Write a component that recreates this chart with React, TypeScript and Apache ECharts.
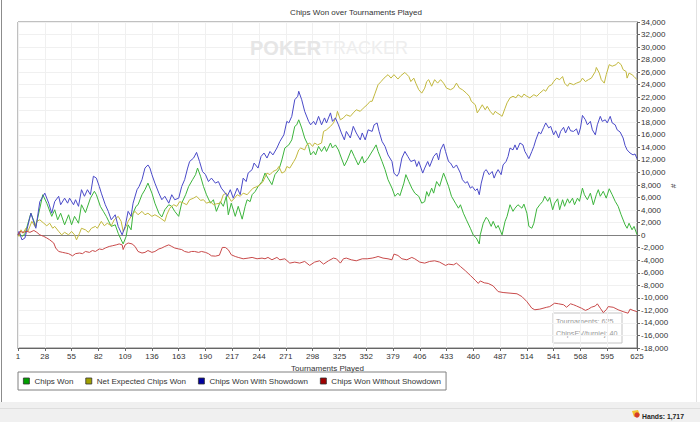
import React from 'react';
import * as echarts from 'echarts';

// [tournament, chips] pairs
const chipsWon: [number, number][] = [
  [1, 0], [2, 300], [5, -200], [8, 200], [14, 3500], [19, 1400], [26, 6450], [30, 5100], [35, 3000], [38, 4050],
  [41, 2450], [44, 3500], [48, 1650], [52, 3250], [55, 1650], [58, 3000], [62, 1900], [65, 4850], [69, 3600], [74, 5900],
  [78, 7000], [80, 6450], [84, 4600], [87, 3800], [90, 3000], [95, 1400], [99, 1650], [102, 300], [105, -750], [107, -1400],
  [110, -200], [112, 1650], [115, 850], [117, 3500], [120, 4600], [122, 4850], [126, 6450], [129, 7250], [132, 8300], [136, 6700],
  [139, 5100], [143, 3500], [146, 2900], [149, 4050], [153, 4850], [156, 4600], [159, 3800], [163, 3000], [166, 5100], [170, 6450],
  [173, 7750], [177, 8850], [180, 9650], [182, 10700], [185, 9400], [188, 7750], [191, 6450], [195, 5100], [198, 5650], [201, 3800],
  [205, 5350], [208, 4600], [211, 6200], [213, 3250], [216, 5100], [220, 3000], [223, 4600], [227, 2550], [230, 4600], [232, 5650],
  [235, 5350], [237, 6450], [240, 6950], [243, 7750], [247, 8550], [250, 9900], [253, 9100], [257, 8050], [260, 9650], [264, 10450],
  [267, 12000], [270, 13900], [274, 14400], [277, 15200], [280, 17350], [282, 17600], [284, 18400], [287, 17100], [290, 15500], [294, 14150],
  [296, 12800], [299, 13350], [301, 12800], [304, 14150], [307, 13350], [310, 14150], [312, 13350], [316, 14700], [318, 13900], [321, 14400],
  [324, 13600], [327, 12300], [330, 11050], [333, 12000], [337, 13600], [340, 12550], [344, 11200], [348, 12550], [350, 11500], [354, 12300],
  [357, 13100], [359, 13600], [362, 14400], [364, 13350], [368, 11750], [371, 10450], [374, 8850], [378, 7500], [381, 6200], [384, 6700],
  [386, 6300], [390, 8300], [392, 9650], [395, 8550], [398, 7500], [401, 6700], [405, 6200], [408, 5100], [411, 5350], [413, 6950],
  [415, 6200], [418, 7500], [420, 6700], [423, 8550], [426, 7800], [430, 9900], [432, 9100], [435, 7800], [438, 6200], [442, 5100],
  [445, 4300], [447, 4850], [450, 3500], [453, 2450], [457, 1100], [460, 0], [463, -450], [466, -1400], [467, 50], [470, 1900],
  [473, 2850], [475, 2450], [478, 1400], [480, 2200], [483, 1100], [485, 1550], [489, 50], [492, 2200], [494, 3000], [497, 4850],
  [500, 3800], [502, 4300], [505, 4850], [509, 4300], [511, 4950], [514, 3500], [516, 1400], [519, 1100], [521, 1900], [524, 4200],
  [527, 4850], [530, 5400], [532, 6200], [535, 5400], [537, 6000], [540, 4050], [542, 5100], [545, 5800], [547, 4050], [550, 5650],
  [552, 4600], [555, 5800], [557, 5100], [560, 5900], [562, 4850], [565, 5900], [567, 5400], [570, 7500], [572, 6450], [575, 5650],
  [578, 6700], [581, 4850], [584, 6450], [586, 7250], [588, 6200], [591, 7000], [594, 5900], [597, 7400], [600, 6450], [603, 5400],
  [606, 4600], [609, 3250], [613, 1650], [615, 1100], [617, 1900], [620, 850], [622, 1400], [625, 100],
];

const netExpected: [number, number][] = [
  [1, 200], [2, -200], [4, 850], [6, 300], [9, 1100], [11, 600], [15, 2200], [18, 1400], [20, 2200], [23, 2450],
  [27, 1900], [30, 1500], [33, 1900], [36, 1100], [38, 1400], [42, 600], [45, 50], [48, 450], [52, 50], [55, 600],
  [58, 50], [60, -750], [63, 300], [65, 1100], [69, 850], [72, 450], [75, 1100], [79, 1400], [81, 1100], [85, 2200],
  [88, 1500], [91, 1900], [95, 1500], [98, 2450], [102, 3000], [105, 2200], [107, 600], [110, 1400], [112, 2200], [116, 3250],
  [119, 3800], [122, 3250], [126, 3800], [129, 3250], [132, 3500], [136, 3000], [139, 3250], [143, 2900], [146, 2550], [149, 2200],
  [151, 3250], [154, 4300], [158, 4850], [161, 4600], [164, 5350], [168, 5100], [171, 4850], [174, 5650], [178, 5900], [181, 6200],
  [185, 5550], [188, 5650], [191, 5100], [195, 5350], [198, 4850], [201, 5000], [205, 5100], [208, 6450], [211, 6700], [213, 6200],
  [216, 5400], [218, 5650], [222, 6450], [225, 6200], [228, 6700], [232, 6450], [235, 7000], [238, 7500], [242, 7750], [245, 8050],
  [248, 8550], [252, 9900], [255, 9650], [258, 10150], [262, 10450], [264, 10950], [267, 9900], [270, 10150], [272, 10950], [275, 10700],
  [279, 11750], [281, 12300], [284, 13600], [286, 13900], [290, 13600], [292, 14400], [295, 14700], [298, 14150], [300, 14700], [303, 14400],
  [307, 14700], [309, 16550], [312, 16800], [316, 17350], [319, 17900], [322, 18950], [323, 19750], [326, 18400], [329, 18700], [332, 19200],
  [336, 18950], [339, 19500], [342, 20000], [346, 19750], [349, 20250], [353, 20800], [356, 21350], [358, 21350], [361, 22650], [364, 24000],
  [367, 24500], [370, 25050], [374, 25600], [377, 25050], [380, 25600], [384, 24900], [387, 25450], [391, 25950], [395, 25300], [397, 24500],
  [400, 25050], [402, 24250], [405, 23200], [408, 22650], [411, 23450], [413, 24500], [415, 24800], [418, 23750], [421, 24800], [424, 24250],
  [427, 24800], [430, 24250], [433, 23450], [437, 23200], [440, 23450], [443, 24250], [446, 23450], [449, 23200], [453, 22650], [456, 22150],
  [458, 21350], [462, 20800], [464, 19500], [467, 20250], [469, 20800], [472, 20000], [474, 20550], [477, 19750], [480, 19200], [482, 19750],
  [484, 19500], [487, 19200], [489, 18950], [492, 20250], [494, 21100], [497, 21900], [500, 22150], [503, 21900], [505, 22400], [509, 22000],
  [511, 22500], [514, 22150], [517, 21900], [521, 22400], [524, 22150], [527, 22650], [531, 23200], [533, 22950], [536, 23750], [539, 24000],
  [541, 24500], [544, 25050], [547, 24800], [550, 25300], [552, 24250], [555, 23750], [557, 24250], [561, 24000], [564, 24250], [568, 24500],
  [570, 25050], [573, 24500], [576, 24800], [579, 25050], [583, 26100], [584, 26750], [587, 25850], [589, 24800], [592, 24250], [594, 25600],
  [597, 27200], [600, 26950], [604, 27200], [606, 27600], [609, 27200], [611, 26400], [614, 26100], [615, 25050], [617, 25850], [620, 25600],
  [622, 25300], [625, 24800],
];

const withShowdown: [number, number][] = [
  [1, 0], [2, 600], [5, -750], [8, -450], [14, 3500], [19, 1100], [23, 5350], [28, 6700], [32, 5100], [35, 3500],
  [38, 5350], [42, 6200], [44, 4850], [48, 5900], [51, 5100], [53, 5900], [57, 4850], [59, 5650], [62, 4600], [65, 7250],
  [68, 6200], [71, 7250], [74, 6450], [77, 9400], [80, 9100], [83, 7750], [85, 6700], [89, 4850], [92, 3800], [95, 2450],
  [99, 3250], [102, 1400], [106, 50], [109, 1400], [112, 3800], [115, 3000], [117, 5100], [121, 7250], [123, 7750], [126, 8850],
  [129, 10700], [132, 11200], [134, 10700], [136, 9650], [139, 8300], [143, 6700], [146, 5650], [149, 6200], [153, 5100], [156, 6450],
  [159, 5650], [163, 5900], [166, 7750], [169, 8850], [172, 10700], [174, 11750], [178, 12300], [181, 13200], [184, 11750], [187, 10150],
  [190, 9650], [193, 8550], [196, 9100], [200, 8300], [203, 8550], [206, 7500], [210, 6700], [212, 6200], [215, 7250], [218, 5900],
  [222, 7500], [225, 6450], [228, 9100], [231, 8550], [233, 9900], [237, 10450], [239, 11500], [243, 10700], [246, 12550], [249, 13100],
  [252, 12300], [255, 13350], [258, 12800], [262, 13900], [265, 14950], [269, 16000], [272, 18150], [274, 17900], [277, 18950], [280, 21600],
  [283, 22150], [284, 22950], [287, 21600], [290, 19750], [294, 18150], [296, 17600], [299, 18150], [301, 17600], [304, 18950], [307, 17600],
  [310, 18700], [312, 17900], [316, 19500], [318, 18150], [321, 18700], [324, 17600], [327, 16300], [330, 15200], [332, 16550], [336, 15500],
  [339, 17350], [342, 16300], [346, 15200], [348, 16300], [351, 15200], [354, 16800], [358, 16550], [360, 17600], [363, 17900], [365, 16550],
  [368, 14950], [371, 14150], [374, 12800], [378, 11750], [380, 9900], [383, 9400], [385, 9900], [388, 12300], [391, 13350], [394, 12550],
  [397, 11750], [401, 12000], [403, 10950], [405, 11750], [409, 9900], [411, 10700], [414, 11750], [416, 10950], [420, 12550], [423, 13100],
  [425, 12000], [427, 13600], [430, 14550], [432, 13350], [435, 11750], [437, 11500], [440, 10700], [443, 11200], [447, 9900], [449, 8850],
  [452, 8300], [454, 8550], [457, 7500], [459, 7750], [462, 7100], [464, 7400], [466, 6450], [468, 8300], [471, 10150], [473, 10450],
  [476, 9650], [479, 10150], [481, 9100], [483, 9900], [485, 10450], [488, 9650], [490, 11200], [493, 11750], [495, 12550], [497, 13900],
  [500, 13600], [502, 14400], [504, 13600], [507, 14700], [510, 14400], [512, 13350], [514, 12800], [516, 12200], [519, 13350], [521, 14150],
  [523, 15200], [526, 16450], [528, 16150], [531, 17200], [533, 17900], [536, 17100], [538, 17350], [541, 16000], [543, 16650], [546, 15500],
  [548, 16550], [551, 17200], [553, 16300], [556, 17350], [558, 16650], [561, 16550], [564, 16950], [566, 16000], [568, 17100], [570, 19100],
  [573, 18400], [575, 17600], [578, 18150], [580, 16800], [583, 16000], [585, 17600], [588, 18950], [590, 18150], [593, 18400], [595, 17900],
  [598, 18950], [600, 17900], [603, 17600], [605, 16800], [608, 16450], [611, 15500], [613, 14300], [615, 13600], [618, 13100], [621, 12800],
  [623, 12950], [625, 12200],
];

const withoutShowdown: [number, number][] = [
  [1, 0], [3, 600], [6, 450], [10, 600], [13, 450], [17, 750], [20, 450], [23, 50], [27, -200], [30, -450],
  [33, -750], [37, -1250], [39, -2050], [42, -2600], [46, -2750], [49, -2850], [52, -2950], [56, -3300], [59, -2950], [63, -2850],
  [66, -2950], [69, -2600], [73, -2750], [76, -2450], [79, -2600], [83, -2200], [86, -2300], [89, -2050], [93, -1800], [96, -1700],
  [100, -1550], [103, -1400], [106, -1550], [107, -2300], [109, -1550], [112, -1250], [116, -1400], [119, -1800], [122, -2600], [126, -2850],
  [129, -2750], [132, -2450], [136, -2750], [139, -2600], [143, -2200], [146, -2050], [149, -1800], [153, -1550], [156, -1800], [159, -2050],
  [163, -2200], [166, -2300], [169, -2600], [173, -2750], [176, -2600], [179, -2600], [183, -2750], [186, -2600], [190, -2750], [193, -2950],
  [196, -3300], [200, -3350], [204, -3200], [207, -1960], [210, -1960], [213, -2330], [216, -3130], [220, -3400], [223, -3550], [228, -3770],
  [233, -3660], [237, -3550], [242, -3770], [247, -3660], [250, -3770], [253, -3550], [257, -3930], [262, -3550], [265, -3930], [270, -3770],
  [275, -4460], [280, -4300], [285, -4460], [290, -4190], [295, -4830], [300, -4300], [305, -4090], [309, -4620], [314, -4090], [319, -3660],
  [322, -3770], [326, -4460], [329, -3770], [332, -3660], [337, -3930], [342, -4090], [348, -3770], [353, -3770], [358, -3660], [361, -3550],
  [364, -3400], [369, -3660], [374, -3770], [378, -3930], [380, -3020], [384, -3240], [388, -3770], [393, -3930], [398, -3550], [401, -3770],
  [406, -4300], [411, -4460], [416, -4190], [421, -4090], [426, -4300], [432, -4830], [435, -4620], [440, -4730], [443, -4460], [447, -5000],
  [452, -5680], [457, -6430], [462, -7200], [465, -7700], [467, -7300], [471, -7600], [475, -7700], [480, -8100], [485, -9000], [490, -9150],
  [497, -9250], [504, -9350], [509, -9800], [514, -10600], [519, -11650], [522, -11900], [527, -11800], [534, -11500], [537, -11400], [542, -10850],
  [546, -10950], [551, -11100], [554, -11500], [558, -10950], [561, -11100], [564, -11300], [569, -11650], [573, -12000], [576, -11800], [579, -11500],
  [583, -11300], [585, -10950], [588, -11650], [591, -12350], [594, -11900], [596, -11400], [601, -11500], [606, -11900], [611, -12200], [616, -12450],
  [618, -11800], [621, -12000], [625, -12200],
];

const tournamentCount = 625;
const tournaments = Array.from({ length: tournamentCount }, (_, i) => String(i + 1));

const seriesNames = ['Chips Won', 'Net Expected Chips Won', 'Chips Won With Showdown', 'Chips Won Without Showdown'];
const lineColors = ['#3cb43c', '#c2b83e', '#4a4ac8', '#c84a4a'];
const legendColors = ['#00a000', '#a0a000', '#0000a0', '#a00000'];

const FONT = '"Liberation Sans", Arial, sans-serif';

// label every 27th tournament, plus the last one
const showTick = (idx: number) => (idx % 27 === 0 && idx <= 594) || idx === tournamentCount - 1;

const App: React.FC = () => {
  const chartRef = React.useRef<HTMLDivElement>(null);

  React.useEffect(() => {
    if (!chartRef.current) return;
    const chart = echarts.init(chartRef.current, undefined, { renderer: 'svg' });

    const allSeries = [chipsWon, netExpected, withShowdown, withoutShowdown];

    chart.setOption({
      animation: false,
      backgroundColor: '#ffffff',
      textStyle: { fontFamily: FONT },
      grid: {
        left: 18,
        top: 22,
        width: 619,
        height: 326,
        show: true,
        borderColor: '#808080',
        borderWidth: 1,
        backgroundColor: '#ffffff',
      },
      legend: {
        left: 18,
        top: 372,
        icon: 'rect',
        itemWidth: 6,
        itemHeight: 6,
        itemGap: 12,
        padding: [5, 5, 5, 5],
        borderColor: '#808080',
        borderWidth: 1,
        textStyle: { fontSize: 8, color: '#333', fontFamily: FONT },
        data: seriesNames.map((name, i) => ({
          name,
          itemStyle: { color: legendColors[i], borderColor: '#333', borderWidth: 0.8 },
        })),
      },
      xAxis: {
        type: 'category',
        data: tournaments,
        boundaryGap: false,
        name: 'Tournaments Played',
        nameLocation: 'middle',
        nameGap: 15,
        nameTextStyle: { fontSize: 8, color: '#333' },
        axisLine: { onZero: false, lineStyle: { color: '#666' } },
        axisTick: { interval: showTick, length: 3, lineStyle: { color: '#666' } },
        axisLabel: { interval: showTick, margin: 4, fontSize: 8, color: '#333' },
        splitLine: { show: true, interval: showTick, lineStyle: { color: '#f0f0f0' } },
      },
      yAxis: {
        type: 'value',
        position: 'right',
        min: -18000,
        max: 34000,
        interval: 2000,
        axisLine: { show: true, lineStyle: { color: '#666' } },
        axisTick: { show: true, length: 3, lineStyle: { color: '#666' } },
        axisLabel: {
          margin: 4,
          fontSize: 8,
          color: '#333',
          formatter: (v: number) => v.toLocaleString('en-US'),
        },
        splitLine: { show: true, lineStyle: { color: '#f0f0f0' } },
      },
      series: allSeries.map((pts, i) => ({
        name: seriesNames[i],
        type: 'line',
        showSymbol: false,
        symbol: 'none',
        data: pts.map(([t, v]) => [t - 1, v]),
        itemStyle: { color: legendColors[i] },
        lineStyle: { color: lineColors[i], width: 1 },
        z: 3,
        markLine: i === 0 ? {
          silent: true,
          symbol: 'none',
          label: { show: false },
          lineStyle: { color: '#808080', type: 'solid', width: 1 },
          data: [{ yAxis: 0 }],
          z: 2,
        } : undefined,
      })),
      graphic: [
        // window frame and status bar
        { type: 'line', shape: { x1: 1.5, y1: 0, x2: 1.5, y2: 402 }, style: { stroke: '#8c8c8c', lineWidth: 1 } },
        { type: 'line', shape: { x1: 696.5, y1: 0, x2: 696.5, y2: 402 }, style: { stroke: '#e2e2e2', lineWidth: 1 } },
        { type: 'rect', shape: { x: 0, y: 402, width: 700, height: 20 }, style: { fill: '#f0f0f0' } },
        { type: 'line', shape: { x1: 0, y1: 408.5, x2: 700, y2: 408.5 }, style: { stroke: '#dedede', lineWidth: 1 } },
        { type: 'polygon', shape: { points: [[632, 411], [638, 410], [640, 415], [634, 417]] }, style: { fill: '#f2c230' } },
        { type: 'circle', shape: { cx: 637, cy: 415, r: 2.6 }, style: { fill: '#d63a2a' } },
        {
          type: 'text', x: 642, y: 416,
          style: { text: 'Hands: 1,717', font: `bold 6.8px ${FONT}`, fill: '#222', verticalAlign: 'middle' },
        },
        // title
        {
          type: 'text', x: 356, y: 12,
          style: { text: 'Chips Won over Tournaments Played', font: `8px ${FONT}`, fill: '#333', align: 'center', verticalAlign: 'middle' },
        },
        // watermark
        {
          type: 'text', x: 250, y: 48, z: 1,
          style: { text: 'POKER', font: `bold 20px ${FONT}`, fill: '#e6e6e6', verticalAlign: 'middle' },
        },
        {
          type: 'text', x: 322, y: 48, z: 1,
          style: { text: 'TRACKER', font: `18px ${FONT}`, fill: '#eeeeee', verticalAlign: 'middle' },
        },
        // y axis name
        {
          type: 'text', x: 673, y: 186, rotation: -Math.PI / 2,
          style: { text: '#', font: `8px ${FONT}`, fill: '#333', align: 'center', verticalAlign: 'middle' },
        },
        // info box
        {
          type: 'group', x: 553, y: 313, z: 10,
          children: [
            { type: 'rect', shape: { x: 0, y: 0, width: 69, height: 30 }, style: { fill: 'rgba(255,255,255,0.9)', stroke: '#c4c4c4', lineWidth: 1 } },
            { type: 'text', x: 3, y: 8.5, style: { text: 'Tournaments: 625', font: `7.2px ${FONT}`, fill: '#999', verticalAlign: 'middle' } },
            { type: 'text', x: 3, y: 20.5, style: { text: 'ChipsEV/turniej: 40', font: `7.2px ${FONT}`, fill: '#999', verticalAlign: 'middle' } },
          ],
        },
      ],
    });

    return () => {
      chart.dispose();
    };
  }, []);

  return (
    <div
      ref={chartRef}
      style={{ position: 'fixed', left: 0, top: 0, width: '700px', height: '422px', background: '#fff' }}
    />
  );
};

export default App;
